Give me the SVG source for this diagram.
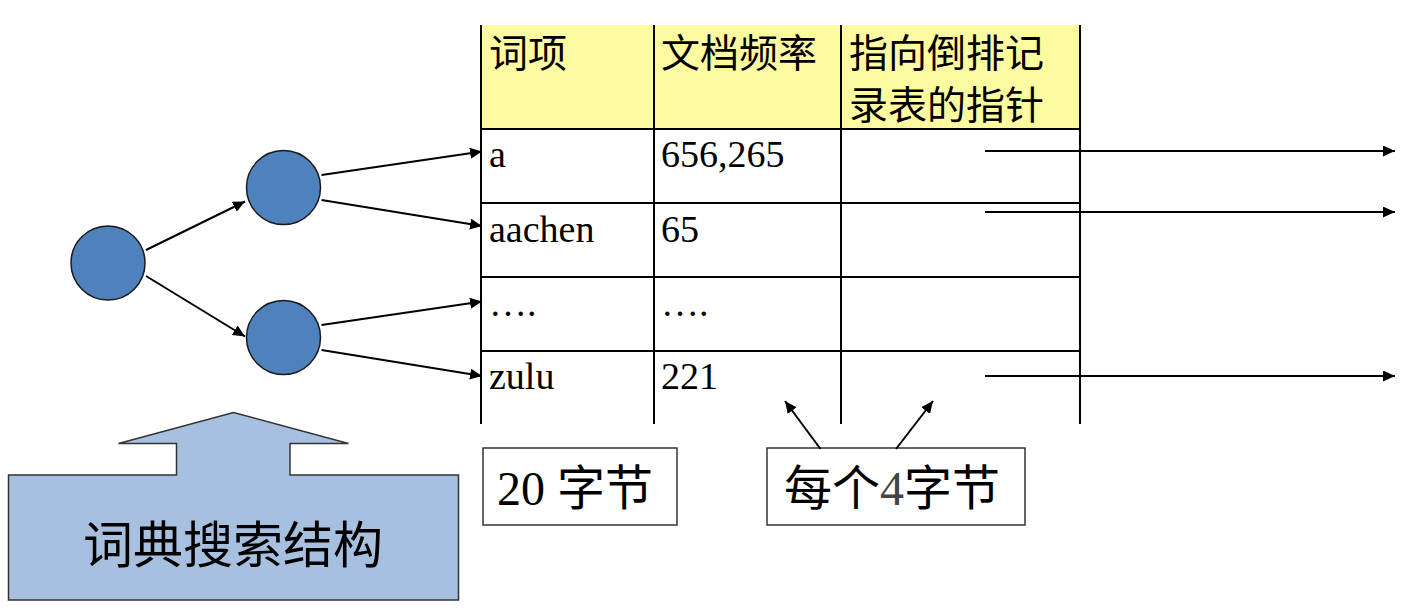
<svg xmlns="http://www.w3.org/2000/svg" width="1401" height="610" viewBox="0 0 1401 610">
<defs>
<style>
.grid{stroke:#000;stroke-width:2;fill:none}
.conn{stroke:#000;stroke-width:2;fill:none}
.cjk{font-family:'Noto Sans CJK SC','Noto Sans',sans-serif;fill:#000}
.ser{font-family:'Liberation Serif','Times New Roman','DejaVu Serif',serif;fill:#000}
.node{fill:#4f81bd;stroke:#1a1a1a;stroke-width:1.5}
.box{fill:#fff;stroke:#333;stroke-width:1.5}
</style>
<marker id="ah" viewBox="0 0 12 11" refX="12" refY="5.5" markerWidth="12" markerHeight="11" markerUnits="userSpaceOnUse" orient="auto">
<path d="M0,0 L12,5.5 L0,11 Z" fill="#000"/>
</marker>
</defs>
<rect width="1401" height="610" fill="#fff"/>

<g id="table">
<rect x="481" y="25" width="599" height="104" fill="#fdfb9f"/>
<line class="grid" x1="481" y1="25" x2="481" y2="424"/>
<line class="grid" x1="654" y1="25" x2="654" y2="424"/>
<line class="grid" x1="841" y1="25" x2="841" y2="424"/>
<line class="grid" x1="1080" y1="25" x2="1080" y2="424" stroke-width="2.5"/>
<line class="grid" x1="481" y1="129" x2="1080" y2="129"/>
<line class="grid" x1="481" y1="203" x2="1080" y2="203"/>
<line class="grid" x1="481" y1="277" x2="1080" y2="277"/>
<line class="grid" x1="481" y1="351" x2="1080" y2="351"/>
<text class="cjk" x="489" y="67" font-size="39">词项</text>
<text class="cjk" x="661" y="67" font-size="39">文档频率</text>
<text class="cjk" x="849" y="67" font-size="39">指向倒排记</text>
<text class="cjk" x="849" y="119" font-size="39">录表的指针</text>
<g font-family="Liberation Serif, Times New Roman, DejaVu Serif, serif" font-size="38" fill="#000">
<text x="489" y="167">a</text>
<text x="661" y="167">656,265</text>
<text x="489" y="242">aachen</text>
<text x="661" y="242">65</text>
<text x="489" y="316">….</text>
<text x="661" y="316">….</text>
<text x="489" y="389">zulu</text>
<text x="661" y="389">221</text>
</g>
</g>

<g id="n1"><circle class="node" cx="108" cy="263" r="37"/></g>
<g id="n2"><circle class="node" cx="283.5" cy="187.5" r="37"/></g>
<g id="n3"><circle class="node" cx="283.5" cy="337.5" r="37"/></g>

<g id="label-20">
<rect class="box" x="483" y="448" width="194" height="77"/>
<text x="497" y="505" font-size="48" font-family="Liberation Serif, Times New Roman, serif">20 <tspan font-family="Noto Sans CJK SC, sans-serif">字节</tspan></text>
</g>
<g id="label-4">
<rect class="box" x="767" y="448" width="258" height="77"/>
<text x="784" y="505" font-size="48" font-family="Noto Sans CJK SC, sans-serif">每个<tspan font-family="Liberation Serif, Times New Roman, serif" fill="#444">4</tspan>字节</text>
</g>

<g id="dict-arrow">
<path d="M8.5,475 L176.5,475 L176.5,443.5 L118.5,443.5 L233.5,412.5 L348.5,443.5 L290,443.5 L290,475 L458.5,475 L458.5,600 L8.5,600 Z" fill="#a7c0e0" stroke="#333" stroke-width="1.5"/>
<text class="cjk" x="233" y="563" font-size="50" text-anchor="middle">词典搜索结构</text>
</g>

<g id="connectors">
<line class="conn" x1="146" y1="250" x2="245" y2="201.5" marker-end="url(#ah)"/>
<line class="conn" x1="146" y1="276" x2="245" y2="336.5" marker-end="url(#ah)"/>
<line class="conn" x1="321.5" y1="175" x2="482" y2="151.5" marker-end="url(#ah)"/>
<line class="conn" x1="321.5" y1="200" x2="482" y2="226" marker-end="url(#ah)"/>
<line class="conn" x1="321.5" y1="325" x2="482" y2="301.5" marker-end="url(#ah)"/>
<line class="conn" x1="321.5" y1="350" x2="482" y2="376" marker-end="url(#ah)"/>
<line class="conn" x1="985" y1="151" x2="1395" y2="151" marker-end="url(#ah)"/>
<line class="conn" x1="985" y1="212" x2="1395" y2="212" marker-end="url(#ah)"/>
<line class="conn" x1="985" y1="376" x2="1395" y2="376" marker-end="url(#ah)"/>
<line class="conn" x1="820.5" y1="449" x2="785" y2="401" marker-end="url(#ah)"/>
<line class="conn" x1="896" y1="449" x2="933" y2="401" marker-end="url(#ah)"/>
</g>
</svg>
